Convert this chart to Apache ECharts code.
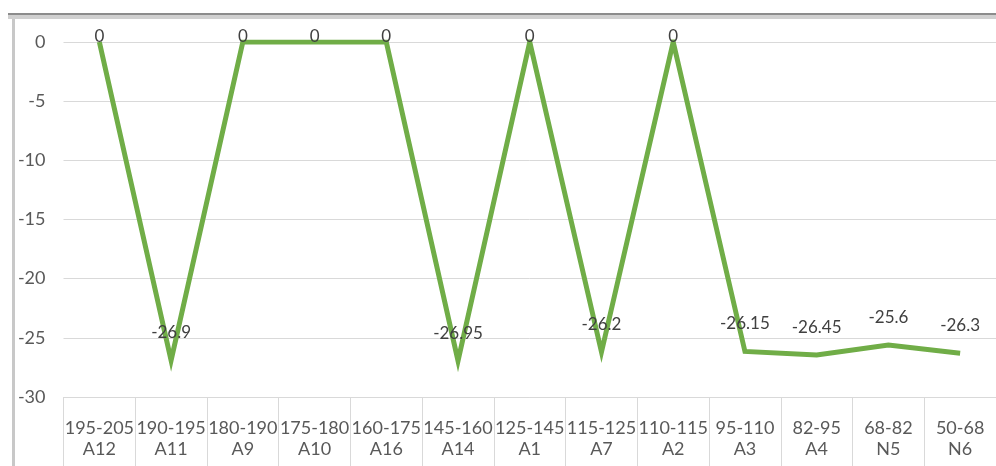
<!DOCTYPE html>
<html>
<head>
<meta charset="utf-8">
<script src="https://cdn.jsdelivr.net/npm/echarts@6/dist/echarts.min.js"></script>
<style>
html,body{margin:0;padding:0;background:#fff;}
#c{width:996px;height:466px;}
</style>
</head>
<body>
<div id="c"></div>
<script>
const ranges = ['195-205','190-195','180-190','175-180','160-175','145-160','125-145','115-125','110-115','95-110','82-95','68-82','50-68'];
const codes = ['A12','A11','A9','A10','A16','A14','A1','A7','A2','A3','A4','N5','N6'];
const values = [0, -26.9, 0, 0, 0, -26.95, 0, -26.2, 0, -26.15, -26.45, -25.6, -26.3];
const yTicks = {min: -30, max: 0, interval: 5};

const font = 'Lato, "Open Sans", sans-serif';
const chart = echarts.init(document.getElementById('c'));
const seriesData = values.map(v => ({
  value: v,
  label: v === 0 ? {distance: -4} : {distance: 18}
}));
chart.setOption({
  animation: false,
  grid: {left: 63.5, right: -10, top: 42, bottom: 69},
  xAxis: {
    type: 'category',
    data: ranges,
    boundaryGap: true,
    axisLine: {show: true, onZero: false, lineStyle: {color: '#d9d9d9', width: 1}},
    axisTick: {show: true, length: 70, lineStyle: {color: '#d9d9d9', width: 1}},
    axisLabel: {
      margin: 21,
      interval: 0,
      formatter: (v, i) => '{a|' + v + '}\n{b|' + codes[i] + '}',
      rich: {
        a: {fontFamily: font, fontSize: 18, color: '#595959', lineHeight: 21},
        b: {fontFamily: font, fontSize: 18, color: '#595959', lineHeight: 21}
      }
    }
  },
  yAxis: {
    type: 'value',
    min: yTicks.min, max: yTicks.max, interval: yTicks.interval,
    axisLine: {show: false},
    axisTick: {show: false},
    splitLine: {lineStyle: {color: '#d9d9d9', width: 1}},
    axisLabel: {margin: 18, fontFamily: font, fontSize: 18, color: '#595959'}
  },
  series: [{
    type: 'line',
    data: seriesData,
    symbol: 'circle',
    symbolSize: 2,
    showSymbol: true,
    itemStyle: {color: 'rgba(0,0,0,0)', borderWidth: 0},
    lineStyle: {color: '#70ad47', width: 5, join: 'miter'},
    label: {show: true, position: 'top', fontFamily: font, fontSize: 17, color: '#404040'}
  }],
  graphic: [
    {type: 'rect', shape: {x: 8, y: 13, width: 988, height: 2}, style: {fill: '#8c8c8c'}, silent: true},
    {type: 'rect', shape: {x: 8, y: 15, width: 988, height: 4}, style: {fill: '#d0d0d0'}, silent: true},
    {type: 'rect', shape: {x: 12, y: 19, width: 3, height: 447}, style: {fill: '#c8c8c8'}, silent: true}
  ]
});
</script>
</body>
</html>
